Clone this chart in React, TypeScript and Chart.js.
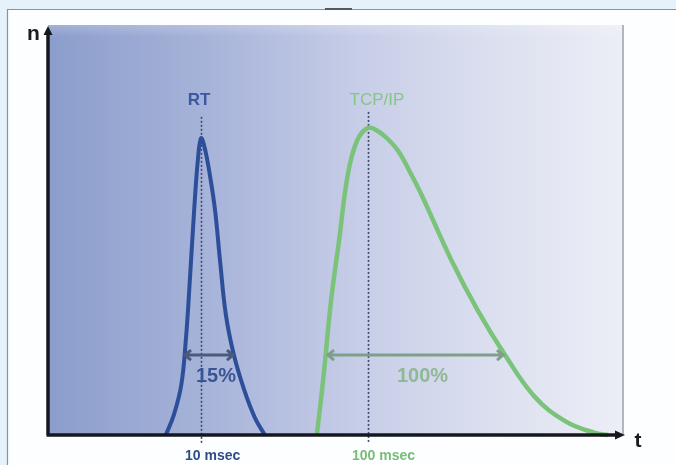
import React, { useEffect, useRef } from "react";
import { Chart, registerables } from "chart.js";

Chart.register(...registerables);

// RT response-time distribution (x: time units, y: count units)
const rtTime = [20.6, 22.0, 23.3, 24.1, 24.8, 25.5, 26.2, 26.75, 27.4, 28.3, 29.2, 30.1, 31.1, 32.5, 34.3, 36.2, 37.9];
const rtCount = [0, 4.9, 12.2, 23.2, 37.8, 53.7, 67.1, 72.4, 70.0, 63.4, 54.9, 42.2, 29.3, 19.5, 11.0, 4.1, 0];

// TCP/IP response-time distribution
const tcpTime = [47.0, 48.1, 49.5, 50.9, 52.4, 54.0, 55.94, 57.7, 59.4, 61.2, 63.3, 65.4, 70.5, 75.2, 79.9, 85.1, 90.4, 95.6, 97.9];
const tcpCount = [0, 13.4, 32.9, 47.6, 63.4, 71.7, 74.9, 74.1, 72.2, 69.3, 64.1, 58.3, 42.7, 30.2, 19.5, 9.3, 3.4, 0.5, 0];

const seriesNames = ["RT", "TCP/IP"];
const peakTime = [26.75, 55.94];
const peakLabelLevel = 80.5;
const dottedTop = [77.6, 78.8];
const tickLabels = ["10 msec", "100 msec"];
const spreadFrom = [23.95, 48.95];
const spreadTo = [32.34, 79.55];
const spreadLevel = 19.5;
const spreadLabels = ["15%", "100%"];
const axisLabels = ["n", "t"];

const FONT = '"Liberation Sans", Arial, sans-serif';

export default function App() {
  const ref = useRef<HTMLCanvasElement>(null);

  useEffect(() => {
    const canvas = ref.current;
    if (!canvas) return;

    const decor = {
      id: "decor",
      beforeDraw(chart: any) {
        const { ctx, chartArea: a } = chart;
        const W = chart.width, H = chart.height;
        ctx.save();
        ctx.fillStyle = "#e5f1fb";
        ctx.fillRect(0, 0, W, H);
        ctx.fillStyle = "#fdfeff";
        ctx.fillRect(7, 9, W - 7, H - 9);
        ctx.strokeStyle = "#8e9196";
        ctx.lineWidth = 1.2;
        ctx.beginPath();
        ctx.moveTo(7.5, H);
        ctx.lineTo(7.5, 9.5);
        ctx.lineTo(W, 9.5);
        ctx.stroke();
        // small dark mark on the top border
        ctx.strokeStyle = "#55585e";
        ctx.lineWidth = 2;
        ctx.beginPath();
        ctx.moveTo(325, 9);
        ctx.lineTo(352, 9);
        ctx.stroke();
        // gradient panel
        const g = ctx.createLinearGradient(a.left, 0, a.right, 0);
        g.addColorStop(0, "#8b9dcc");
        g.addColorStop(0.3, "#a9b5da");
        g.addColorStop(0.55, "#c8cee8");
        g.addColorStop(0.8, "#dde1f0");
        g.addColorStop(1, "#eceef6");
        ctx.fillStyle = g;
        ctx.fillRect(a.left, a.top, a.right - a.left + 3, a.bottom - a.top);
        const gv = ctx.createLinearGradient(0, a.top, 0, a.top + 12);
        gv.addColorStop(0, "rgba(255,255,255,0.2)");
        gv.addColorStop(1, "rgba(255,255,255,0)");
        ctx.fillStyle = gv;
        ctx.fillRect(a.left, a.top, a.right - a.left + 3, 12);
        ctx.strokeStyle = "#b3b6c0";
        ctx.lineWidth = 2;
        ctx.beginPath();
        ctx.moveTo(a.right + 3, a.top);
        ctx.lineTo(a.right + 3, a.bottom);
        ctx.stroke();
        ctx.restore();
      },
      beforeDatasetsDraw(chart: any) {
        const { ctx, scales } = chart;
        const xs = scales.x, ys = scales.y;
        ctx.save();
        ctx.strokeStyle = "#3d4a6c";
        ctx.lineWidth = 1.6;
        ctx.setLineDash([2, 2]);
        peakTime.forEach((t, i) => {
          const px = Math.round(xs.getPixelForValue(t)) + 0.5;
          ctx.beginPath();
          ctx.moveTo(px, ys.getPixelForValue(dottedTop[i]));
          ctx.lineTo(px, ys.getPixelForValue(0) + 9);
          ctx.stroke();
        });
        ctx.restore();
      },
      afterDatasetsDraw(chart: any) {
        const { ctx, scales, chartArea: a } = chart;
        const xs = scales.x, ys = scales.y;
        ctx.save();
        // spread arrows
        const arrowColors = ["#4b5a7a", "#7f9f8a"];
        spreadFrom.forEach((f, i) => {
          const x1 = xs.getPixelForValue(f);
          const x2 = xs.getPixelForValue(spreadTo[i]);
          const y = ys.getPixelForValue(spreadLevel);
          ctx.strokeStyle = arrowColors[i];
          ctx.lineWidth = 3;
          ctx.beginPath();
          ctx.moveTo(x1, y);
          ctx.lineTo(x2, y);
          ctx.moveTo(x1 + 6, y - 5);
          ctx.lineTo(x1, y);
          ctx.lineTo(x1 + 6, y + 5);
          ctx.moveTo(x2 - 6, y - 5);
          ctx.lineTo(x2, y);
          ctx.lineTo(x2 - 6, y + 5);
          ctx.stroke();
        });
        // axes
        const x0 = a.left, y0 = ys.getPixelForValue(0);
        ctx.strokeStyle = "#15181f";
        ctx.fillStyle = "#15181f";
        ctx.lineWidth = 3.5;
        ctx.beginPath();
        ctx.moveTo(x0, y0);
        ctx.lineTo(x0, a.top + 8);
        ctx.moveTo(x0 - 1.5, y0);
        ctx.lineTo(a.right - 2, y0);
        ctx.stroke();
        ctx.beginPath();
        ctx.moveTo(x0, a.top + 1);
        ctx.lineTo(x0 - 4.5, a.top + 10);
        ctx.lineTo(x0 + 4.5, a.top + 10);
        ctx.closePath();
        ctx.fill();
        ctx.beginPath();
        ctx.moveTo(a.right + 5, y0);
        ctx.lineTo(a.right - 5, y0 - 4.5);
        ctx.lineTo(a.right - 5, y0 + 4.5);
        ctx.closePath();
        ctx.fill();
        // texts
        ctx.textBaseline = "alphabetic";
        ctx.textAlign = "left";
        ctx.fillStyle = "#1a1c22";
        ctx.font = `bold 21px ${FONT}`;
        ctx.fillText(axisLabels[0], 27, 40);
        ctx.textAlign = "center";
        ctx.fillText(axisLabels[1], a.right + 18, y0 + 12);

        const peakColors = ["#3a58a3", "#86c686"];
        const peakFonts = [`bold 17px ${FONT}`, `17px ${FONT}`];
        const peakOffsets = [-2, 9];
        const tickColors = ["#2f4c86", "#76be76"];
        const spreadColors = ["#3a5595", "#8fb894"];
        seriesNames.forEach((name, i) => {
          const px = xs.getPixelForValue(peakTime[i]);
          ctx.textAlign = "center";
          ctx.fillStyle = peakColors[i];
          ctx.font = peakFonts[i];
          ctx.fillText(name, px + peakOffsets[i], ys.getPixelForValue(peakLabelLevel));
          ctx.textAlign = "left";
          ctx.fillStyle = tickColors[i];
          ctx.font = `bold 14px ${FONT}`;
          ctx.fillText(tickLabels[i], px - 16, y0 + 25);
          const mid = (xs.getPixelForValue(spreadFrom[i]) + xs.getPixelForValue(spreadTo[i])) / 2;
          ctx.textAlign = "center";
          ctx.fillStyle = spreadColors[i];
          ctx.font = `bold 20px ${FONT}`;
          ctx.fillText(spreadLabels[i], mid + 7, ys.getPixelForValue(spreadLevel) + 27);
        });
        ctx.restore();
      },
    };

    const chart = new Chart(canvas, {
      type: "line",
      data: {
        datasets: [
          {
            label: seriesNames[0],
            data: rtTime.map((t, i) => ({ x: t, y: rtCount[i] })),
            borderColor: "#2d4f99",
            borderWidth: 4,
            pointRadius: 0,
            tension: 0.4,
            fill: false,
            clip: false as any,
          },
          {
            label: seriesNames[1],
            data: tcpTime.map((t, i) => ({ x: t, y: tcpCount[i] })),
            borderColor: "#7bc37a",
            borderWidth: 4.5,
            pointRadius: 0,
            tension: 0.4,
            fill: false,
            clip: false as any,
          },
        ],
      },
      options: {
        responsive: false,
        animation: false,
        devicePixelRatio: 1,
        layout: { padding: { left: 48, right: 56, top: 25, bottom: 30 } },
        scales: {
          x: { type: "linear", min: 0, max: 100, display: false },
          y: { type: "linear", min: 0, max: 100, display: false },
        },
        plugins: { legend: { display: false }, tooltip: { enabled: false } },
      },
      plugins: [decor],
    });
    return () => chart.destroy();
  }, []);

  return (
    <div style={{ position: "absolute", left: 0, top: 0, width: 676, height: 465 }}>
      <canvas ref={ref} width={676} height={465} style={{ display: "block" }} />
    </div>
  );
}
